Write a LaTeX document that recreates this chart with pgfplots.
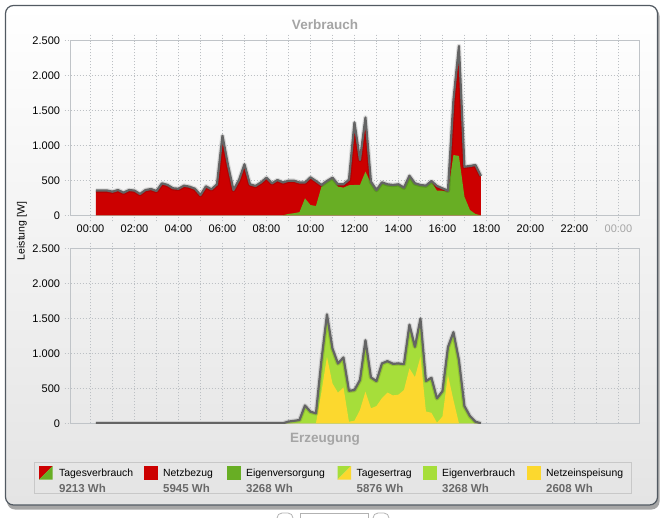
\documentclass[border=0pt]{standalone}
\usepackage{fontspec}
\setmainfont{Liberation Sans}
\usepackage{pgfplots}
\pgfplotsset{compat=1.18}
\usepackage{pgfplotstable}

\definecolor{cRed}{RGB}{204,0,0}
\definecolor{cDGreen}{RGB}{104,174,36}
\definecolor{cLGreen}{RGB}{166,222,58}
\definecolor{cYellow}{RGB}{252,216,46}
\definecolor{cLine}{RGB}{100,100,100}
\definecolor{cGrid}{RGB}{188,192,196}
\definecolor{cFrame}{RGB}{192,196,200}
\definecolor{cTitle}{RGB}{165,165,165}
\definecolor{cVal}{RGB}{105,105,105}
\definecolor{cPanel}{RGB}{82,90,98}
\definecolor{cLegBox}{RGB}{200,200,200}

\pgfplotstableread{
h tot eig
0.25 355 0
0.50 355 0
0.75 355 0
1.00 338 0
1.25 362 0
1.50 324 0
1.75 362 0
2.00 354 0
2.25 305 0
2.50 362 0
2.75 376 0
3.00 348 0
3.25 458 0
3.50 435 0
3.75 387 0
4.00 380 0
4.25 424 0
4.50 410 0
4.75 380 0
5.00 290 0
5.25 415 0
5.50 372 0
5.75 444 0
6.00 1140 0
6.25 720 0
6.50 362 0
6.75 505 0
7.00 730 0
7.25 444 0
7.50 420 0
7.75 470 0
8.00 539 0
8.25 458 0
8.50 505 0
8.75 470 0
9.00 495 20
9.25 495 30
9.50 470 45
9.75 470 243
10.00 544 147
10.25 491 133
10.50 434 410
10.75 491 480
11.00 539 539
11.25 444 410
11.50 444 396
11.75 510 430
12.00 1330 434
12.25 792 434
12.50 1400 625
12.75 481 458
13.00 362 362
13.25 472 472
13.50 444 444
13.75 434 434
14.00 444 444
14.25 396 396
14.50 567 567
14.75 458 458
15.00 434 434
15.25 425 425
15.50 491 481
15.75 420 352
16.00 386 352
16.25 352 338
16.50 1651 863
16.75 2424 850
17.00 696 267
17.25 706 76
17.50 720 19
17.75 563 0
}\verbrauch

\pgfplotstableread{
h gen feed
0.25 0 0
0.50 0 0
0.75 0 0
1.00 0 0
1.25 0 0
1.50 0 0
1.75 0 0
2.00 0 0
2.25 0 0
2.50 0 0
2.75 0 0
3.00 0 0
3.25 0 0
3.50 0 0
3.75 0 0
4.00 0 0
4.25 0 0
4.50 0 0
4.75 0 0
5.00 0 0
5.25 0 0
5.50 0 0
5.75 0 0
6.00 0 0
6.25 0 0
6.50 0 0
6.75 0 0
7.00 0 0
7.25 0 0
7.50 0 0
7.75 0 0
8.00 0 0
8.25 0 0
8.50 0 0
8.75 0 0
9.00 25 0
9.25 35 0
9.50 47 0
9.75 255 0
10.00 166 0
10.25 143 0
10.50 905 450
10.75 1560 952
11.00 1071 571
11.25 857 438
11.50 943 514
11.75 466 23
12.00 476 37
12.25 619 190
12.50 1190 452
12.75 657 214
13.00 604 247
13.25 857 360
13.50 890 440
13.75 852 400
14.00 857 410
14.25 847 476
14.50 1412 786
14.75 1095 660
15.00 1500 952
15.25 605 170
15.50 652 150
15.75 357 9
16.00 460 95
16.25 1090 690
16.50 1305 333
16.75 905 0
17.00 247 0
17.25 104 0
17.50 23 0
17.75 0 0
}\erzeugung

\pgfplotsset{
  panel/.style={
    scale only axis, width=568.6pt, height=174.6pt,
    anchor=south west,
    xmin=-0.9, xmax=24.95, ymin=0, ymax=2500,
    xtick={0,1,...,24}, ytick={0,500,...,2500},
    grid=major,
    major grid style={cGrid, line width=0.9pt, dash pattern=on 0.9pt off 2.1pt},
    axis line style={cFrame, line width=1.2pt},
    tick align=outside, ytick pos=left,
    major tick length=6pt,
    major tick style={cGrid, line width=0.9pt, dash pattern=on 0.9pt off 2.1pt},
    yticklabel style={font=\fontsize{11}{13}\selectfont, inner sep=4.5pt, text=black},
    xticklabel style={font=\fontsize{11}{13}\selectfont, inner sep=3pt, text=black},
    /pgf/number format/.cd, 1000 sep={.}, assume math mode=true,
  },
  tline/.style={draw=cLine, line width=2.2pt, line join=round, no markers},
  sline/.style={draw=black, opacity=0.12, line width=4.5pt, line join=round, no markers},
}

\begin{document}
\begin{tikzpicture}
\useasboundingbox (0pt,0pt) rectangle (660pt,-518pt);
% panel shadow and panel
\fill[black!35, rounded corners=8pt] (7pt,-8pt) rectangle (659.5pt,-509.5pt);
\shade[top color=white, bottom color={rgb,255:red,228;green,228;blue,228}, rounded corners=8pt]
  (5.5pt,-5.5pt) rectangle (657.5pt,-505pt);
\draw[cPanel, line width=1.2pt, rounded corners=8pt] (5.5pt,-5.5pt) rectangle (657.5pt,-505pt);

% top chart
\begin{axis}[panel, at={(70.7pt,-215.3pt)},
  xticklabels={00:00,,02:00,,04:00,,06:00,,08:00,,10:00,,12:00,,14:00,,16:00,,18:00,,20:00,,22:00,,\textcolor{cTitle}{00:00}},
]
\addplot[fill=cRed, draw=none] table[x=h, y=tot] {\verbrauch} \closedcycle;
\addplot[fill=cDGreen, draw=none] table[x=h, y=eig] {\verbrauch} \closedcycle;
\addplot[sline] table[x=h, y=tot] {\verbrauch};
\addplot[tline] table[x=h, y=tot] {\verbrauch};
\end{axis}

% bottom chart
\begin{axis}[panel, at={(70.7pt,-423.3pt)}, xtick pos=right, xticklabels={}]
\addplot[fill=cLGreen, draw=none] table[x=h, y=gen] {\erzeugung} \closedcycle;
\addplot[fill=cYellow, draw=none] table[x=h, y=feed] {\erzeugung} \closedcycle;
\addplot[sline] table[x=h, y=gen] {\erzeugung};
\addplot[tline] table[x=h, y=gen] {\erzeugung};
\end{axis}

% titles
\node[text=cTitle, font=\fontsize{13.5}{15}\bfseries] at (325pt,-25pt) {Verbrauch};
\node[text=cTitle, font=\fontsize{13.5}{15}\bfseries] at (325pt,-439pt) {Erzeugung};
\node[rotate=90, font=\fontsize{10.5}{12}\selectfont] at (22pt,-231pt) {Leistung [W]};

% legend
\draw[cLegBox, line width=1pt] (34.5pt,-462pt) rectangle (631pt,-493.3pt);
\fill[cRed] (39pt,-466pt) -- (52.5pt,-466pt) -- (39pt,-479.5pt) -- cycle;
\fill[cDGreen] (52.5pt,-466pt) -- (52.5pt,-479.5pt) -- (39pt,-479.5pt) -- cycle;
\fill[cRed] (144pt,-466pt) rectangle (157.5pt,-479.5pt);
\fill[cDGreen] (227pt,-466pt) rectangle (240.5pt,-479.5pt);
\fill[cLGreen] (337.5pt,-466pt) -- (351pt,-466pt) -- (337.5pt,-479.5pt) -- cycle;
\fill[cYellow] (351pt,-466pt) -- (351pt,-479.5pt) -- (337.5pt,-479.5pt) -- cycle;
\fill[cLGreen] (423pt,-466pt) rectangle (436.5pt,-479.5pt);
\fill[cYellow] (527pt,-466pt) rectangle (540.5pt,-479.5pt);
\begin{scope}[every node/.style={anchor=base west, inner sep=0pt}]
\foreach \x/\t in {59/Tagesverbrauch, 163/Netzbezug, 246/Eigenversorgung, 356.5/Tagesertrag, 442/Eigenverbrauch, 546/Netzeinspeisung}
  \node[font=\fontsize{10.4}{12}\selectfont] at (\x pt,-476.5pt) {\t};
\foreach \x/\t in {59/9213 Wh, 163/5945 Wh, 246/3268 Wh, 356.5/5876 Wh, 442/3268 Wh, 546/2608 Wh}
  \node[font=\fontsize{11.5}{13}\bfseries, text=cVal] at (\x pt,-492pt) {\t};
\end{scope}

% bits of the page below the panel
\draw[gray!60, line width=0.8pt, rounded corners=5pt] (277pt,-513pt) rectangle (293pt,-530pt);
\draw[gray!60, line width=0.8pt] (300pt,-513pt) rectangle (368pt,-530pt);
\draw[gray!60, line width=0.8pt, rounded corners=5pt] (373pt,-513pt) rectangle (389pt,-530pt);
\end{tikzpicture}
\end{document}
